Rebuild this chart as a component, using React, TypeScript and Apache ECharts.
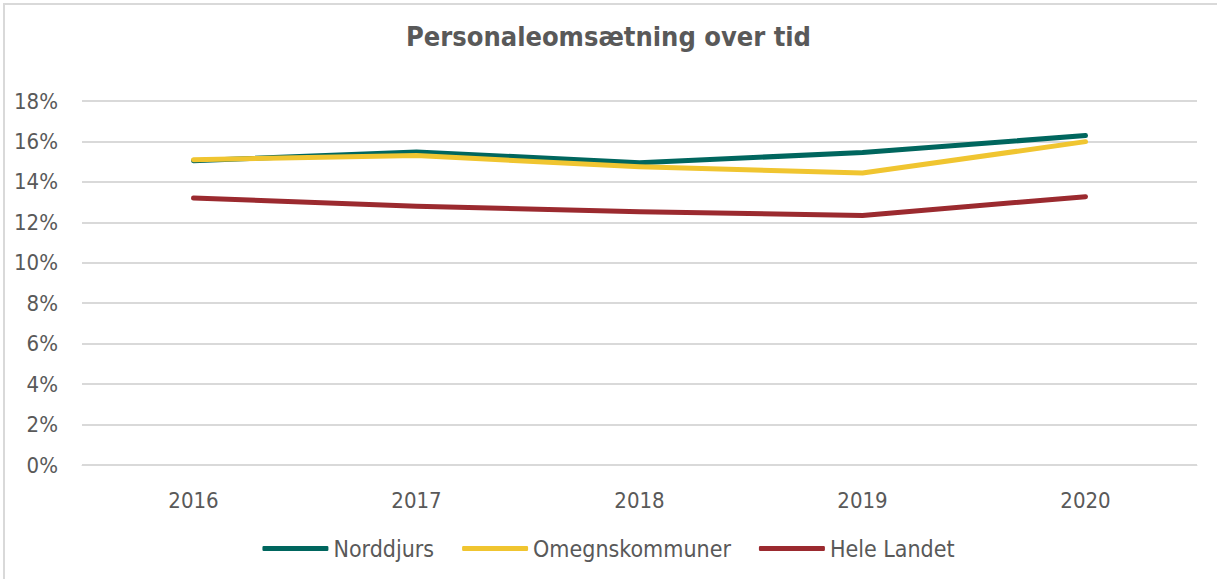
import React, { useEffect, useRef } from "react";
import * as echarts from "echarts";

const years = ["2016", "2017", "2018", "2019", "2020"];
const norddjurs = [15.05, 15.48, 14.95, 15.45, 16.29];
const omegn = [15.1, 15.3, 14.75, 14.44, 15.99];
const heleLandet = [13.2, 12.8, 12.52, 12.34, 13.27];

const FONT = "DejaVu Sans Condensed";

export default function App() {
  const ref = useRef<HTMLDivElement>(null);
  useEffect(() => {
    const chart = echarts.init(ref.current!, null, { renderer: "svg" });
    const mk = (name: string, data: number[], color: string) => ({
      name,
      type: "line",
      data,
      symbol: "none",
      lineStyle: { color, width: 5, cap: "round", join: "round" },
      itemStyle: { color },
    });
    chart.setOption({
      animation: false,
      backgroundColor: "#ffffff",
      textStyle: { fontFamily: FONT },
      title: {
        text: "Personaleomsætning over tid",
        left: "center",
        top: 18,
        textStyle: { fontFamily: FONT, fontSize: 27, fontWeight: "bold", color: "#595959" },
      },
      graphic: [
        {
          type: "rect",
          shape: { x: 4, y: 4, width: 1230, height: 600 },
          style: { fill: "none", stroke: "#d9d9d9", lineWidth: 2 },
          silent: true,
        },
      ],
      legend: {
        bottom: 14,
        left: "center",
        itemWidth: 66,
        itemHeight: 5,
        itemGap: 28,
        icon: "roundRect",
        textStyle: { fontFamily: FONT, fontSize: 23, color: "#595959", padding: [0, 0, 0, 0] },
        data: ["Norddjurs", "Omegnskommuner", "Hele Landet"],
      },
      grid: { left: 82, right: 20, top: 101, bottom: 114, containLabel: false },
      xAxis: {
        type: "category",
        data: years,
        boundaryGap: true,
        axisLine: { show: true, lineStyle: { color: "#d9d9d9", width: 1 } },
        axisTick: { show: false },
        axisLabel: { fontFamily: FONT, fontSize: 22, color: "#595959", margin: 24 },
      },
      yAxis: {
        type: "value",
        min: 0,
        max: 18,
        interval: 2,
        axisLine: { show: false },
        axisTick: { show: false },
        splitLine: { lineStyle: { color: "#d9d9d9", width: 2 } },
        axisLabel: {
          fontFamily: FONT,
          fontSize: 22,
          color: "#595959",
          margin: 24,
          formatter: (v: number) => `${v}%`,
        },
      },
      series: [
        mk("Norddjurs", norddjurs, "#00665e"),
        mk("Omegnskommuner", omegn, "#f0c530"),
        mk("Hele Landet", heleLandet, "#9b2a2f"),
      ],
    });
    return () => chart.dispose();
  }, []);
  return (
    <div
      ref={ref}
      style={{ position: "absolute", left: 0, top: 0, width: 1217, height: 579 }}
    />
  );
}
